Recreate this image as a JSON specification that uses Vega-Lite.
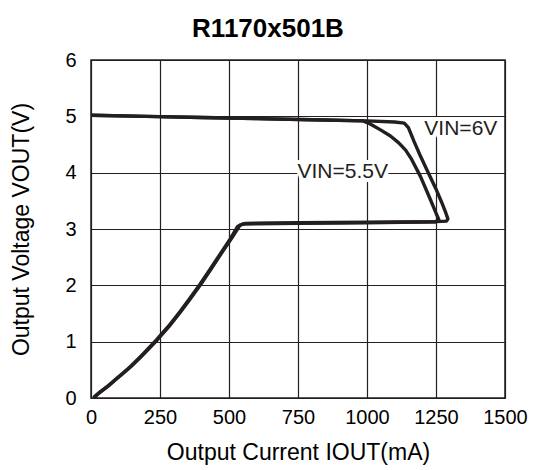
{
  "$schema": "https://vega.github.io/schema/vega-lite/v6.json",
  "autosize": {"type": "none"},
  "width": 414,
  "height": 338,
  "padding": {"left": 91, "top": 60, "right": 29, "bottom": 72},
  "background": "white",
  "config": {
    "font": "Liberation Sans",
    "view": {"stroke": "#231f20", "strokeWidth": 1.5},
    "axis": {
      "gridColor": "#231f20", "gridOpacity": 1, "gridWidth": 1.2,
      "domain": false, "ticks": false,
      "labelFont": "Liberation Sans", "labelFontSize": 20, "labelColor": "#000",
      "titleFont": "Liberation Sans", "titleFontSize": 23, "titleFontWeight": "normal", "titleColor": "#000"
    },
    "title": {"font": "Liberation Sans", "fontSize": 26, "fontWeight": "bold", "color": "#000", "offset": 8}
  },
  "title": {"text": "R1170x501B", "anchor": "middle", "dx": -30},
  "datasets": {
    "curves": [
      {"s": "6V", "o": 1, "i": 0, "v": 5.02},
      {"s": "6V", "o": 2, "i": 200, "v": 5.0},
      {"s": "6V", "o": 3, "i": 400, "v": 4.98},
      {"s": "6V", "o": 4, "i": 600, "v": 4.96},
      {"s": "6V", "o": 5, "i": 800, "v": 4.94},
      {"s": "6V", "o": 6, "i": 1000, "v": 4.92},
      {"s": "6V", "o": 7, "i": 1100, "v": 4.9},
      {"s": "6V", "o": 8, "i": 1135, "v": 4.88},
      {"s": "6V", "o": 9, "i": 1150, "v": 4.8},
      {"s": "6V", "o": 10, "i": 1170, "v": 4.56},
      {"s": "6V", "o": 11, "i": 1194, "v": 4.29},
      {"s": "6V", "o": 12, "i": 1222, "v": 4.0},
      {"s": "6V", "o": 13, "i": 1249, "v": 3.72},
      {"s": "6V", "o": 14, "i": 1270, "v": 3.48},
      {"s": "6V", "o": 15, "i": 1286, "v": 3.28},
      {"s": "6V", "o": 16, "i": 1293, "v": 3.18},
      {"s": "6V", "o": 17, "i": 1288, "v": 3.14},
      {"s": "6V", "o": 18, "i": 1250, "v": 3.13},
      {"s": "6V", "o": 19, "i": 1000, "v": 3.12},
      {"s": "6V", "o": 20, "i": 750, "v": 3.11},
      {"s": "6V", "o": 21, "i": 560, "v": 3.1},
      {"s": "6V", "o": 22, "i": 540, "v": 3.07},
      {"s": "6V", "o": 23, "i": 510, "v": 2.84},
      {"s": "6V", "o": 24, "i": 470, "v": 2.55},
      {"s": "6V", "o": 25, "i": 435, "v": 2.29},
      {"s": "6V", "o": 26, "i": 398, "v": 2.02},
      {"s": "6V", "o": 27, "i": 360, "v": 1.76},
      {"s": "6V", "o": 28, "i": 325, "v": 1.53},
      {"s": "6V", "o": 29, "i": 283, "v": 1.27},
      {"s": "6V", "o": 30, "i": 240, "v": 1.03},
      {"s": "6V", "o": 31, "i": 205, "v": 0.85},
      {"s": "6V", "o": 32, "i": 175, "v": 0.7},
      {"s": "6V", "o": 33, "i": 145, "v": 0.56},
      {"s": "6V", "o": 34, "i": 117, "v": 0.44},
      {"s": "6V", "o": 35, "i": 88, "v": 0.32},
      {"s": "6V", "o": 36, "i": 60, "v": 0.2},
      {"s": "6V", "o": 37, "i": 35, "v": 0.11},
      {"s": "6V", "o": 38, "i": 14, "v": 0.02},
      {"s": "5.5V", "o": 1, "i": 0, "v": 5.02},
      {"s": "5.5V", "o": 2, "i": 200, "v": 5.0},
      {"s": "5.5V", "o": 3, "i": 400, "v": 4.98},
      {"s": "5.5V", "o": 4, "i": 600, "v": 4.96},
      {"s": "5.5V", "o": 5, "i": 800, "v": 4.94},
      {"s": "5.5V", "o": 6, "i": 985, "v": 4.92},
      {"s": "5.5V", "o": 7, "i": 1010, "v": 4.87},
      {"s": "5.5V", "o": 8, "i": 1049, "v": 4.76},
      {"s": "5.5V", "o": 9, "i": 1085, "v": 4.65},
      {"s": "5.5V", "o": 10, "i": 1115, "v": 4.53},
      {"s": "5.5V", "o": 11, "i": 1140, "v": 4.4},
      {"s": "5.5V", "o": 12, "i": 1160, "v": 4.25},
      {"s": "5.5V", "o": 13, "i": 1194, "v": 3.93},
      {"s": "5.5V", "o": 14, "i": 1230, "v": 3.52},
      {"s": "5.5V", "o": 15, "i": 1252, "v": 3.26},
      {"s": "5.5V", "o": 16, "i": 1260, "v": 3.17},
      {"s": "5.5V", "o": 17, "i": 1250, "v": 3.13},
      {"s": "5.5V", "o": 18, "i": 1000, "v": 3.11},
      {"s": "5.5V", "o": 19, "i": 750, "v": 3.1},
      {"s": "5.5V", "o": 20, "i": 550, "v": 3.09},
      {"s": "5.5V", "o": 21, "i": 532, "v": 3.05},
      {"s": "5.5V", "o": 22, "i": 505, "v": 2.83},
      {"s": "5.5V", "o": 23, "i": 466, "v": 2.54},
      {"s": "5.5V", "o": 24, "i": 431, "v": 2.28},
      {"s": "5.5V", "o": 25, "i": 395, "v": 2.02},
      {"s": "5.5V", "o": 26, "i": 357, "v": 1.76},
      {"s": "5.5V", "o": 27, "i": 322, "v": 1.53},
      {"s": "5.5V", "o": 28, "i": 280, "v": 1.27},
      {"s": "5.5V", "o": 29, "i": 237, "v": 1.03},
      {"s": "5.5V", "o": 30, "i": 202, "v": 0.85},
      {"s": "5.5V", "o": 31, "i": 172, "v": 0.7},
      {"s": "5.5V", "o": 32, "i": 143, "v": 0.56},
      {"s": "5.5V", "o": 33, "i": 115, "v": 0.44},
      {"s": "5.5V", "o": 34, "i": 86, "v": 0.32},
      {"s": "5.5V", "o": 35, "i": 58, "v": 0.2},
      {"s": "5.5V", "o": 36, "i": 33, "v": 0.11},
      {"s": "5.5V", "o": 37, "i": 12, "v": 0.02}
    ],
    "labels": [
      {"label": "VIN=6V", "i": 1340, "v": 4.78},
      {"label": "VIN=5.5V", "i": 912, "v": 4.02}
    ]
  },
  "layer": [
    {
      "data": {"name": "curves"},
      "mark": {"type": "line", "color": "#231f20", "strokeWidth": 3.4, "strokeJoin": "round", "strokeCap": "round", "clip": true},
      "encoding": {
        "x": {"field": "i", "type": "quantitative", "scale": {"domain": [0, 1500], "nice": false},
              "axis": {"values": [0, 250, 500, 750, 1000, 1250, 1500], "format": "d", "labelPadding": 9, "title": "Output Current IOUT(mA)", "titlePadding": 14, "labelFlush": false}},
        "y": {"field": "v", "type": "quantitative", "scale": {"domain": [0, 6], "nice": false},
              "axis": {"values": [0, 1, 2, 3, 4, 5, 6], "format": "d", "labelPadding": 15, "title": "Output Voltage VOUT(V)", "titlePadding": 31}},
        "detail": {"field": "s"},
        "order": {"field": "o"}
      }
    },
    {
      "data": {"name": "labels"},
      "mark": {"type": "text", "fontSize": 21, "font": "Liberation Sans", "stroke": "white", "strokeWidth": 8, "fill": "white", "strokeJoin": "round"},
      "encoding": {
        "x": {"field": "i", "type": "quantitative"},
        "y": {"field": "v", "type": "quantitative"},
        "text": {"field": "label"}
      }
    },
    {
      "data": {"name": "labels"},
      "mark": {"type": "text", "fontSize": 21, "font": "Liberation Sans", "color": "#231f20"},
      "encoding": {
        "x": {"field": "i", "type": "quantitative"},
        "y": {"field": "v", "type": "quantitative"},
        "text": {"field": "label"}
      }
    }
  ]
}
